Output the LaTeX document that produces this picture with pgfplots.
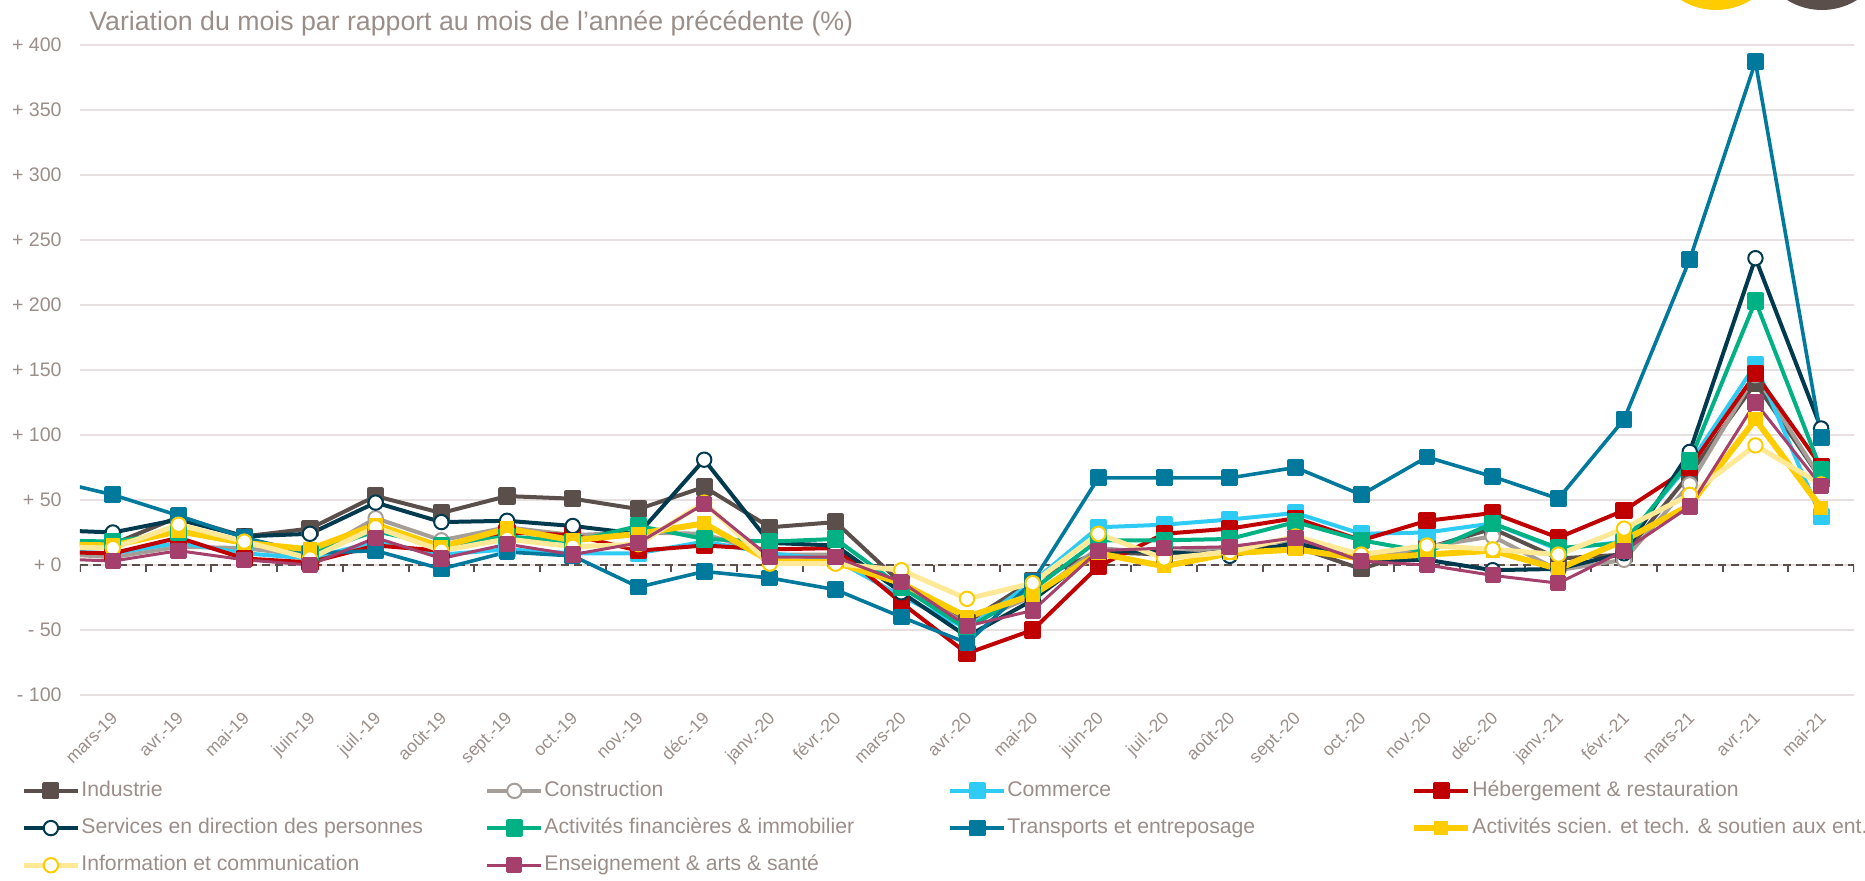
\documentclass[border=0pt]{standalone}
\usepackage{pgfplots}
\usepackage{pgfplotstable}
\pgfplotsset{compat=1.18}
\usepackage{fontspec}
\setmainfont{Liberation Sans}
\definecolor{txt}{RGB}{155,142,137}
\definecolor{gridc}{RGB}{232,224,224}
\definecolor{cind}{RGB}{91,79,75}
\definecolor{ccon}{RGB}{165,157,151}
\definecolor{ccom}{RGB}{46,203,245}
\definecolor{cheb}{RGB}{192,0,0}
\definecolor{cser}{RGB}{0,58,79}
\definecolor{cfin}{RGB}{0,177,132}
\definecolor{ctra}{RGB}{0,121,156}
\definecolor{csci}{RGB}{255,204,0}
\definecolor{cinf}{RGB}{255,233,150}
\definecolor{cens}{RGB}{165,63,107}
\definecolor{cdark}{RGB}{91,79,75}

\pgfplotstableread{
x   ind  con  com  heb  ser  fin  tra  sci  inf  ens
-1  16   9    11   10   27   19   66   16   14   5
0   16   6    9    9    25   18   54   15   13   3
1   37   14   17   21   35   25   38   26   31   11
2   22   13   9    5    22   19   21   17   18   4
3   28   7    5    2    24   9    9    12   5    0
4   53   36   18   15   48   26   11   31   29   21
5   40   19   8    11   33   15   -3   14   11   5
6   53   29   12   25   34   22   10   28   20   16
7   51   23   9    23   30   18   7    19   14   8
8   43   25   9    11   24   30   -17  24   16   17
9   60   24   18   15   81   20   -5   32   48   47
10  29   8    9    12   17   18   -10  3    1    6
11  33   8    4    13   15   20   -19  2    1    6
12  -14  -15  -24  -29  -21  -17  -40  -14  -4   -13
13  -44  -46  -49  -68  -55  -49  -60  -40  -26  -47
14  -12  -24  -13  -50  -27  -19  -13  -23  -14  -35
15  10   13   29   -1   11   19   67   9    24   11
16  8    9    31   24   10   19   67   -1   5    13
17  14   14   35   28   7    20   67   9    10   14
18  14   19   40   36   17   33   75   12   22   21
19  -3   4    24   19   4    19   54   5    8    3
20  13   14   25   34   4    10   83   8    15   0
21  28   22   32   40   -4   32   68   11   12   -8
22  5    -4   12   21   -3   13   51   -3   8    -14
23  8    4    18   42   9    17   112  19   28   11
24  70   62   78   75   87   80   235  46   54   45
25  140  146  154  147  236  203  387  112  92   125
26  66   66   37   76   105  73   98   44   62   61
}\data

\newcommand{\legtxt}[1]{\makebox[202pt][l]{#1}}

\begin{document}
\begin{tikzpicture}
\path[use as bounding box] (-40pt,-93pt) rectangle (892.5pt,347.5pt);
\begin{axis}[
  scale only axis,
  width=887pt, height=325pt,
  xmin=-0.5, xmax=26.5,
  ymin=-100, ymax=400,
  axis line style={draw=none},
  tick style={draw=none},
  major tick length=0pt,
  ymajorgrids,
  grid style={gridc, line width=0.9pt},
  ytick={-100,-50,0,50,100,150,200,250,300,350,400},
  yticklabels={- 100,- 50,+ 0,+ 50,+ 100,+ 150,+ 200,+ 250,+ 300,+ 350,+ 400},
  yticklabel style={font=\fontsize{9.8}{11}\selectfont, text=txt, inner sep=0pt, anchor=east, xshift=-9pt},
  xtick={0,...,26},
  xticklabels={mars-19,avr.-19,mai-19,juin-19,juil.-19,août-19,sept.-19,oct.-19,nov.-19,déc.-19,janv.-20,févr.-20,mars-20,avr.-20,mai-20,juin-20,juil.-20,août-20,sept.-20,oct.-20,nov.-20,déc.-20,janv.-21,févr.-21,mars-21,avr.-21,mai-21},
  xticklabel style={font=\fontsize{8.8}{10}\selectfont, text=txt, xshift=-1.5pt, yshift=-7.5pt, rotate=45, anchor=north east, inner sep=0pt},
  legend columns=4,
  legend style={at={(axis description cs:0,0)}, anchor=north west, xshift=-29.5pt, yshift=-42.5pt,
    draw=none, fill=none, inner sep=0pt,
    font=\fontsize{10.6}{12}\selectfont, text=txt,
    nodes={inner sep=0pt, text height=8pt, text depth=2.5pt},
    row sep=8.1pt,
    /tikz/every odd column/.append style={column sep=0.5pt}},
  legend cell align=left,
  legend image code/.code={\draw[#1, mark repeat=2, mark phase=2] plot coordinates {(0pt,0pt) (13.5pt,0pt) (27pt,0pt)};},
  every axis plot/.append style={line join=round},
]
\draw[cdark, line width=1.2pt, dash pattern=on 4pt off 2.5pt] (axis cs:-0.5,0) -- (axis cs:26.5,0);
\pgfplotsinvokeforeach{0,...,27}{\draw[cdark, line width=1pt] (axis cs:#1-0.5,0) -- ++(0pt,-3.5pt);}

\addplot[cind, line width=2pt, mark=square*, mark size=3.3pt, mark options={fill=cind, draw=cind}] table[x=x,y=ind] {\data};
\addlegendentry{\legtxt{Industrie}}
\addplot[ccon, line width=2pt, mark=*, mark size=3.6pt, mark options={fill=white, draw=ccon, line width=1pt}] table[x=x,y=con] {\data};
\addlegendentry{\legtxt{Construction}}
\addplot[ccom, line width=2pt, mark=square*, mark size=3.3pt, mark options={fill=ccom, draw=ccom}] table[x=x,y=com] {\data};
\addlegendentry{\legtxt{Commerce}}
\addplot[cheb, line width=2pt, mark=square*, mark size=3.3pt, mark options={fill=cheb, draw=cheb}] table[x=x,y=heb] {\data};
\addlegendentry{\legtxt{Hébergement \& restauration}}
\addplot[cser, line width=2pt, mark=*, mark size=3.6pt, mark options={fill=white, draw=cser, line width=1pt}] table[x=x,y=ser] {\data};
\addlegendentry{\legtxt{Services en direction des personnes}}
\addplot[cfin, line width=2pt, mark=square*, mark size=3.3pt, mark options={fill=cfin, draw=cfin}] table[x=x,y=fin] {\data};
\addlegendentry{\legtxt{Activités financières \& immobilier}}
\addplot[ctra, line width=1.8pt, mark=square*, mark size=3.3pt, mark options={fill=ctra, draw=ctra}] table[x=x,y=tra] {\data};
\addlegendentry{\legtxt{Transports et entreposage}}
\addplot[csci, line width=3pt, mark=square*, mark size=3.3pt, mark options={fill=csci, draw=csci, line width=0.5pt}] table[x=x,y=sci] {\data};
\addlegendentry{\legtxt{Activités scien. et tech. \& soutien aux ent.}}
\addplot[cinf, line width=2.5pt, mark=*, mark size=3.6pt, mark options={fill=white, draw=csci, line width=1pt}] table[x=x,y=inf] {\data};
\addlegendentry{\legtxt{Information et communication}}
\addplot[cens, line width=1.5pt, mark=square*, mark size=3.3pt, mark options={fill=cens, draw=cens}] table[x=x,y=ens] {\data};
\addlegendentry{\legtxt{Enseignement \& arts \& santé}}
\end{axis}
\node[anchor=west, inner sep=0pt, text=txt, font=\fontsize{13.35}{15}\selectfont] at (4.5pt,336pt) {Variation du mois par rapport au mois de l'année précédente (\%)};
\fill[csci] (818pt,375.5pt) circle (33pt);
\fill[cdark] (871pt,375.5pt) circle (33pt);
\end{tikzpicture}
\end{document}
